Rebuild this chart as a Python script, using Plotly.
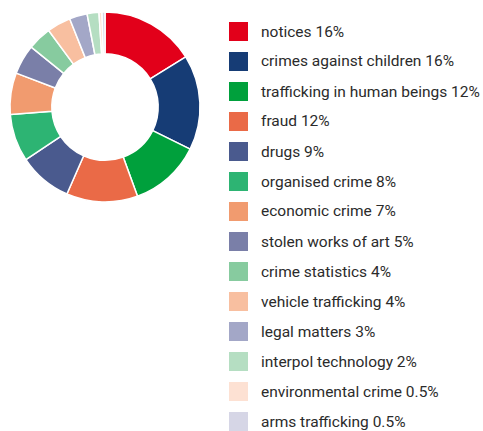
import plotly.graph_objects as go

categories = [
    "notices", "crimes against children", "trafficking in human beings", "fraud",
    "drugs", "organised crime", "economic crime", "stolen works of art",
    "crime statistics", "vehicle trafficking", "legal matters",
    "interpol technology", "environmental crime", "arms trafficking",
]
shares = [16, 16, 12, 12, 9, 8, 7, 5, 4, 4, 3, 2, 0.5, 0.5]
colors = [
    "#E2001A", "#163C75", "#00A03C", "#EA6A47", "#4A5A8E", "#2DB473",
    "#F19B6F", "#7A7FA8", "#87CB9F", "#F8BFA0", "#A3A7C7", "#B5DEC2",
    "#FDE1D3", "#D6D6E6",
]

W, H = 483, 431
FONT = "Roboto"
TEXT_COLOR = "#2b2b2b"

def fmt(v):
    return f"{v:g}%"

fig = go.Figure(
    go.Pie(
        labels=categories,
        values=shares,
        marker=dict(colors=colors, line=dict(color="white", width=1.5)),
        hole=0.56,
        sort=False,
        direction="clockwise",
        rotation=0,
        textinfo="none",
        hoverinfo="label+percent",
        showlegend=False,
        domain=dict(x=[10 / W, 200 / W], y=[1 - 202 / H, 1 - 12 / H]),
    )
)

# legend: colour swatch plus "label value%" per row
shapes, annotations = [], []
row0, step, sw = 31.5, 30.0, 19
for i, (name, val, col) in enumerate(zip(categories, shares, colors)):
    cy = row0 + step * i
    shapes.append(dict(
        type="rect", xref="paper", yref="paper",
        x0=229 / W, x1=(229 + sw) / W,
        y0=1 - (cy + sw / 2) / H, y1=1 - (cy - sw / 2) / H,
        fillcolor=col, line=dict(width=0),
    ))
    annotations.append(dict(
        xref="paper", yref="paper", x=259 / W, y=1 - cy / H,
        xanchor="left", yanchor="middle", showarrow=False,
        text=f"{name} {fmt(val)}",
        font=dict(family=FONT, size=15.5, color=TEXT_COLOR),
    ))

fig.update_layout(
    width=W, height=H,
    margin=dict(l=0, r=0, t=0, b=0),
    paper_bgcolor="white", plot_bgcolor="white",
    shapes=shapes, annotations=annotations,
)

fig.write_html("out.html")
